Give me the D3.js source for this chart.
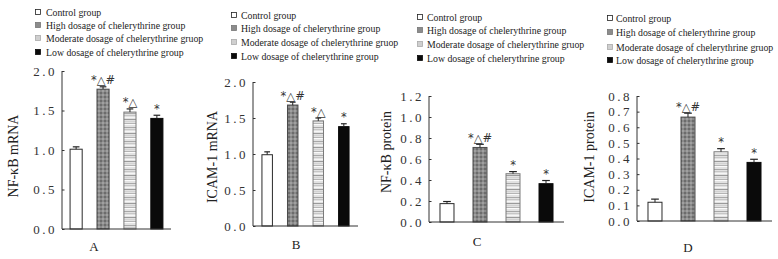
<!DOCTYPE html>
<html>
<head>
<meta charset="utf-8">
<script src="https://cdn.jsdelivr.net/npm/d3@7"></script>
<style>
  body { margin: 0; background: #fff; }
  svg { display: block; }
  .mark { font-variant-emoji: text; }
</style>
</head>
<body>
<svg id="chart" width="778" height="259"></svg>
<script>
// Group names, as printed in the legend of every panel.
const groups = ["Control group", "High dosage of chelerythrine group",
                "Moderate dosage of chelerythrine gruop", "Low dosage of chelerythrine group"];
const panelLetters = ["A", "B", "C", "D"];
const yTitles = ["NF-κB mRNA", "ICAM-1 mRNA", "NF-κB protein", "ICAM-1 protein"];

// Bar heights (means) and error bars for each panel.
const nfkbMrna = [1.01, 1.77, 1.48, 1.40];
const nfkbMrnaErr = [0.03, 0.03, 0.04, 0.04];
const icamMrna = [0.99, 1.68, 1.46, 1.38];
const icamMrnaErr = [0.04, 0.04, 0.04, 0.04];
const nfkbProtein = [0.175, 0.71, 0.46, 0.365];
const nfkbProteinErr = [0.02, 0.03, 0.02, 0.03];
const icamProtein = [0.12, 0.665, 0.443, 0.375];
const icamProteinErr = [0.02, 0.025, 0.02, 0.02];

// Significance marks above the bars.
const marksA = ["", "*△#", "*△", "*"];
const marksB = ["", "*△#", "*△", "*"];
const marksC = ["", "*△#", "*", "*"];
const marksD = ["", "*△#", "*", "*"];

// Tick labels of the y axes.
const ticksA = [0, 0.5, 1.0, 1.5, 2.0];
const ticksB = [0, 0.5, 1.0, 1.5, 2.0];
const ticksC = [0, 0.2, 0.4, 0.6, 0.8, 1.0, 1.2];
const ticksD = [0, 0.1, 0.2, 0.3, 0.4, 0.5, 0.6, 0.7, 0.8];

// Page layout of each panel (pixels).
const layout = [
    {clipX: 0,   clipW: 209, axisX: 62,  xEnd: 171, yBot: 229, yTop: 71, pi: 0.55, po: 0.30,
     legX: 38, legTextX: 46, legY: [12, 25, 38, 52], titleX: 18, titleY: 156, letterX: 94, letterY: 251},
    {clipX: 209, clipW: 193, axisX: 253, xEnd: 358, yBot: 226, yTop: 82, pi: 0.59, po: 0.35,
     legX: 234, legTextX: 241, legY: [15, 28, 42, 56], titleX: 217, titleY: 157, letterX: 296, letterY: 249},
    {clipX: 402, clipW: 186, axisX: 429, xEnd: 564, yBot: 222, yTop: 96, pi: 0.576, po: 0.333,
     legX: 420, legTextX: 427, legY: [17, 30, 44, 58], titleX: 391, titleY: 152, letterX: 477, letterY: 246},
    {clipX: 588, clipW: 190, axisX: 637, xEnd: 772, yBot: 221, yTop: 96, pi: 0.576, po: 0.333,
     legX: 610, legTextX: 616, legY: [18, 32, 47, 60], titleX: 594, titleY: 157, letterX: 688, letterY: 252}
];

const panelValues = [nfkbMrna, icamMrna, nfkbProtein, icamProtein];
const panelErrors = [nfkbMrnaErr, icamMrnaErr, nfkbProteinErr, icamProteinErr];
const panelMarks = [marksA, marksB, marksC, marksD];
const panelTicks = [ticksA, ticksB, ticksC, ticksD];

const serif = "'Liberation Serif', 'DejaVu Serif', serif";
const svg = d3.select("#chart");
const defs = svg.append("defs");

// Mottled grey fill for the high dose bars.
let pHigh = defs.append("pattern").attr("id", "pHigh")
    .attr("patternUnits", "userSpaceOnUse").attr("width", 4).attr("height", 4);
pHigh.append("rect").attr("width", 4).attr("height", 4).attr("fill", "#8a8a8a");
pHigh.append("rect").attr("x", 0).attr("y", 0).attr("width", 2).attr("height", 2).attr("fill", "#6c6c6c");
pHigh.append("rect").attr("x", 2).attr("y", 2).attr("width", 2).attr("height", 2).attr("fill", "#a0a0a0");

// Horizontal stripes for the moderate dose bars.
let pMod = defs.append("pattern").attr("id", "pMod")
    .attr("patternUnits", "userSpaceOnUse").attr("width", 20).attr("height", 14);
pMod.append("rect").attr("width", 20).attr("height", 14).attr("fill", "#e2e2e2");
[[1, "#a8a8a8"], [3, "#c6c6c6"], [5, "#f6f6f6"], [7, "#9a9a9a"], [9, "#d2d2d2"], [11, "#b4b4b4"], [12, "#fafafa"]]
    .forEach(s => pMod.append("rect").attr("y", s[0]).attr("width", 20).attr("height", 1).attr("fill", s[1]));

const barFill = ["#ffffff", "url(#pHigh)", "url(#pMod)", "#0a0a0a"];
const barStroke = ["#2a2a2a", "#4a4a4a", "#7a7a7a", "#0a0a0a"];
const legendFill = ["#ffffff", "#8c8c8c", "#cfcfcf", "#0a0a0a"];
const legendStroke = ["#222", "#777", "#aaa", "#0a0a0a"];

layout.forEach((L, p) => {
    let clipId = "clip" + p;
    defs.append("clipPath").attr("id", clipId)
        .append("rect").attr("x", L.clipX).attr("y", 0).attr("width", L.clipW).attr("height", 70);

    let g = svg.append("g");

    let values = panelValues[p];
    let errors = panelErrors[p];
    let ticks = panelTicks[p];

    let x = d3.scaleBand().domain(groups).range([L.axisX, L.xEnd])
        .paddingInner(L.pi).paddingOuter(L.po);
    let y = d3.scaleLinear().domain([0, d3.max(ticks)]).range([L.yBot, L.yTop]);

    // Legend, cut off where the next panel's legend begins
    let leg = g.append("g").attr("clip-path", `url(#${clipId})`);
    leg.append("rect").attr("x", L.clipX).attr("y", 0).attr("width", L.clipW).attr("height", 70).attr("fill", "#fff");
    groups.forEach((name, i) => {
        leg.append("rect")
            .attr("x", L.legX - 2.5).attr("y", L.legY[i] - 2.5)
            .attr("width", 5).attr("height", 5)
            .attr("fill", legendFill[i])
            .attr("stroke", legendStroke[i]).attr("stroke-width", 0.8);
        leg.append("text")
            .attr("x", L.legTextX).attr("y", L.legY[i] + 3.5)
            .text(name)
            .style("font-family", serif).style("font-size", "9.8px").style("fill", "#222");
    });

    // Bars
    g.selectAll(".bar").data(values).enter().append("rect")
        .attr("x", (d, i) => x(groups[i]))
        .attr("y", d => y(d))
        .attr("width", x.bandwidth())
        .attr("height", d => y(0) - y(d))
        .attr("fill", (d, i) => barFill[i])
        .attr("stroke", (d, i) => barStroke[i])
        .attr("stroke-width", 1);

    // Error bars, upper half only
    let cap = x.bandwidth() * 0.55;
    values.forEach((v, i) => {
        let cx = x(groups[i]) + x.bandwidth() / 2;
        g.append("line").attr("x1", cx).attr("x2", cx).attr("y1", y(v)).attr("y2", y(v + errors[i]))
            .attr("stroke", "#222").attr("stroke-width", 1);
        g.append("line").attr("x1", cx - cap / 2).attr("x2", cx + cap / 2)
            .attr("y1", y(v + errors[i])).attr("y2", y(v + errors[i]))
            .attr("stroke", "#222").attr("stroke-width", 1.2);
        g.append("text").attr("class", "mark")
            .attr("x", cx).attr("y", y(v + errors[i]) - 2.5)
            .attr("text-anchor", "middle")
            .text(panelMarks[p][i])
            .style("font-family", "'DejaVu Sans', sans-serif").style("font-size", "11.5px").style("fill", "#333");
    });

    // Y axis
    let yAxis = g.append("g").attr("transform", `translate(${L.axisX},0)`)
        .call(d3.axisRight(y).tickValues(ticks).tickSize(2.5).tickFormat(d3.format(".1f")));
    yAxis.select(".domain").attr("stroke", "#333").attr("d", `M0,${L.yBot}V${L.yTop}`);
    yAxis.selectAll(".tick line").attr("stroke", "#333");
    yAxis.selectAll(".tick text")
        .attr("x", -5).attr("text-anchor", "end")
        .style("font-family", serif).style("font-size", "13px")
        .style("letter-spacing", "2.5px").style("fill", "#333");

    // X axis
    g.append("line").attr("x1", L.axisX).attr("x2", L.xEnd).attr("y1", L.yBot).attr("y2", L.yBot)
        .attr("stroke", "#333").attr("stroke-width", 1);

    // Axis titles
    g.append("text")
        .attr("transform", `translate(${L.titleX},${L.titleY}) rotate(-90)`)
        .attr("text-anchor", "middle")
        .text(yTitles[p])
        .style("font-family", serif).style("font-size", "14px").style("fill", "#222");
    g.append("text")
        .attr("x", L.letterX).attr("y", L.letterY)
        .attr("text-anchor", "middle")
        .text(panelLetters[p])
        .style("font-family", serif).style("font-size", "13px").style("fill", "#222");
});
</script>
</body>
</html>
